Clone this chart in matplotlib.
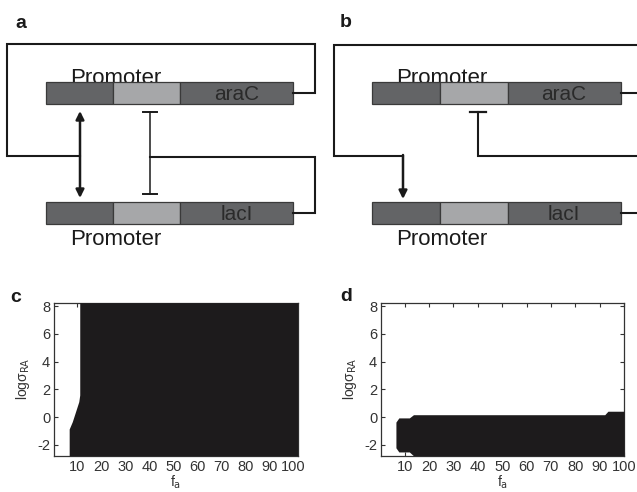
import matplotlib
matplotlib.use('Agg')
import matplotlib.pyplot as plt
from matplotlib.patches import Rectangle

plt.rcParams['font.family'] = ['Liberation Sans', 'DejaVu Sans']

# ---------------- data ----------------
# panel c: black region lies to the right of fa_min at each log(rho)
c_logrho = [-2.77, -0.85, -0.32, 0.16, 0.64, 1.12, 1.6, 8.24]
c_fa_min = [6.6, 6.6, 7.9, 8.8, 9.7, 10.6, 11.0, 11.0]
c_xlim = (0.4, 101.8)
# panel d: black region between lower and upper bound at each fa
d_fa = [6.4, 7.6, 11.9, 13.6, 92.1, 93.4, 100.0]
d_upper = [-0.35, -0.05, -0.05, 0.18, 0.18, 0.43, 0.43]
d_lower = [-2.2, -2.5, -2.5, -2.77, -2.77, -2.77, -2.77]
d_xlim = (0.4, 100.0)
ylim = (-2.77, 8.24)
xticks = [10, 20, 30, 40, 50, 60, 70, 80, 90, 100]
yticks = [-2, 0, 2, 4, 6, 8]

# diagram geometry (pixel space)
seg_a = [46, 113, 180, 293]
seg_b = [372, 440, 508, 621]
bar_top = [82, 202]
bar_h = 22
gene_names = ['araC', 'lacI']
seg_colors = ['#636466', '#a6a7a9', '#636466']

BLACK = '#1d1b1c'

fig = plt.figure(figsize=(6.37, 4.92), dpi=100)
ax0 = fig.add_axes([0, 0, 1, 1])
ax0.set_xlim(0, 637)
ax0.set_ylim(492, 0)
ax0.axis('off')
ax0.patch.set_visible(False)

def bars(ax, seg, name_x):
    for top, name in zip(bar_top, gene_names):
        for i in range(3):
            ax.add_patch(Rectangle((seg[i], top), seg[i + 1] - seg[i], bar_h,
                                   facecolor=seg_colors[i], edgecolor='#3a3a3a', lw=0.9, zorder=2))
        ax.text(name_x, top + bar_h / 2 + 1, name, fontsize=15, color='#2a2a2a',
                ha='center', va='center', zorder=3)
    ax.text(seg[0] + 24, 83.5, 'Promoter', fontsize=16, color='#1a1a1a', ha='left', va='baseline', zorder=1)
    ax.text(seg[0] + 24, 245, 'Promoter', fontsize=16, color='#1a1a1a', ha='left', va='baseline', zorder=1)

LW = 1.5
LC = '#1a1a1a'
# panel a
bars(ax0, seg_a, 237)
ax0.plot([293, 315, 315, 7, 7, 80], [93, 93, 44, 44, 156, 156], color=LC, lw=LW, solid_joinstyle='miter')
ax0.plot([150, 315, 315, 293], [157, 157, 213, 213], color=LC, lw=LW, solid_joinstyle='miter')
ax0.annotate('', xy=(80, 111), xytext=(80, 198),
             arrowprops=dict(arrowstyle='<|-|>', lw=1.8, color=LC, mutation_scale=12,
                             shrinkA=0, shrinkB=0))
ax0.plot([150, 150], [112, 194], color=LC, lw=1.1)
ax0.plot([143, 157], [112, 112], color=LC, lw=1.4)
ax0.plot([143, 157], [194, 194], color=LC, lw=1.4)
ax0.text(15, 28, 'a', fontsize=14, fontweight='bold', color='#1a1a1a', ha='left', va='baseline')

# panel b
bars(ax0, seg_b, 564)
ax0.plot([621, 640], [93, 93], color=LC, lw=LW)
ax0.plot([640, 334, 334, 403], [45, 45, 156, 156], color=LC, lw=LW, solid_joinstyle='miter')
ax0.annotate('', xy=(403, 199), xytext=(403, 155),
             arrowprops=dict(arrowstyle='-|>', lw=1.8, color=LC, mutation_scale=12,
                             shrinkA=0, shrinkB=0))
ax0.plot([478, 478, 640], [112, 156, 156], color=LC, lw=LW, solid_joinstyle='miter')
ax0.plot([470, 486], [112, 112], color=LC, lw=1.6)
ax0.plot([621, 640], [213, 213], color=LC, lw=LW)
ax0.text(340, 27, 'b', fontsize=14, fontweight='bold', color='#1a1a1a', ha='left', va='baseline')

# heatmap panels
W, H = 637.0, 492.0
def make_ax(left, right, xl):
    ax = fig.add_axes([left / W, 1 - 455.7 / H, (right - left) / W, (455.7 - 302.7) / H])
    ax.set_xlim(*xl)
    ax.set_ylim(*ylim)
    ax.set_xticks(xticks)
    ax.set_xticklabels([str(t) for t in xticks])
    ax.set_yticks(yticks)
    ax.set_yticklabels([str(t) for t in yticks])
    ax.tick_params(direction='in', top=True, right=True, length=3, width=0.8,
                   labelsize=10.5, labelcolor='#333333', color='#333333', pad=3)
    for s in ax.spines.values():
        s.set_color('#333333')
        s.set_linewidth(0.9)
    ax.set_xlabel('f$_{\\rm a}$', fontsize=10, color='#333333', labelpad=0)
    ax.set_ylabel('logσ$_{\\rm RA}$', fontsize=10, color='#333333', labelpad=4)
    return ax

axc = make_ax(54.3, 297.7, c_xlim)
axc.fill_betweenx(c_logrho, c_fa_min, c_xlim[1], color=BLACK, lw=0, zorder=3)
fig.text(10 / W, 1 - 302 / H, 'c', fontsize=14, fontweight='bold', color='#1a1a1a', ha='left', va='baseline')

axd = make_ax(381.3, 624.0, d_xlim)
axd.fill_between(d_fa, d_lower, d_upper, color=BLACK, lw=0, zorder=3)
fig.text(340 / W, 1 - 301 / H, 'd', fontsize=14, fontweight='bold', color='#1a1a1a', ha='left', va='baseline')

fig.savefig('out.png', dpi=100)
